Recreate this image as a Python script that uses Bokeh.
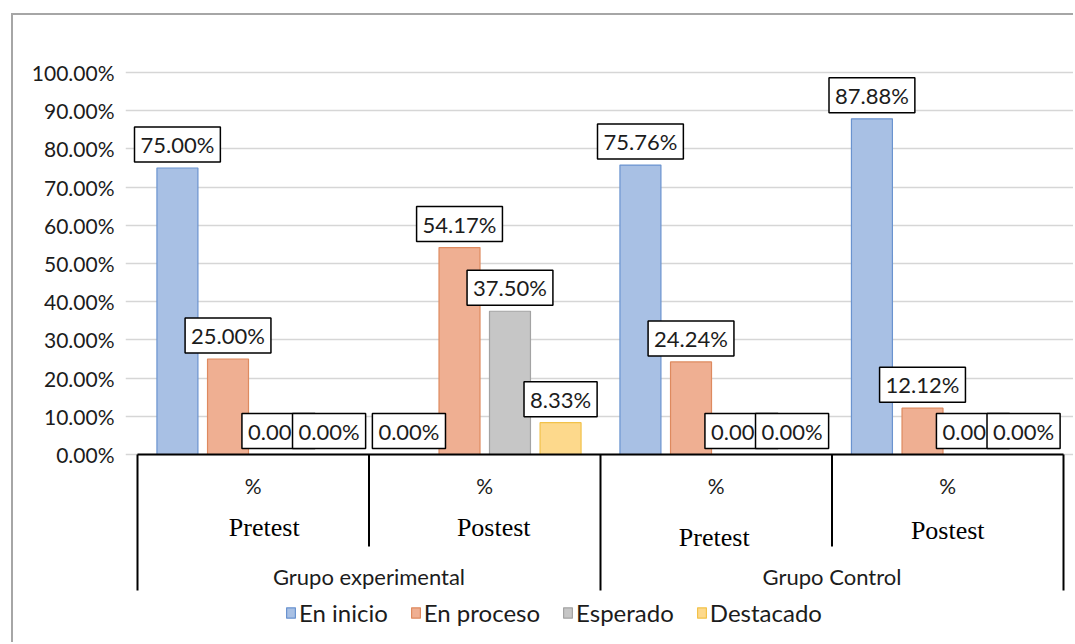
from bokeh.plotting import figure
from bokeh.models import (FactorRange, Range1d, FixedTicker, PrintfTickFormatter,
                          ColumnDataSource)
from bokeh.transform import dodge
from bokeh.core.properties import value
from bokeh.embed import file_html
from bokeh.resources import INLINE

# ---- data -------------------------------------------------------------
groups = ["Grupo experimental", "Grupo Control"]
tests = ["Pretest", "Postest"]
unit_label = "%"
series = ["En inicio", "En proceso", "Esperado", "Destacado"]
en_inicio = [75.00, 0.00, 75.76, 87.88]
en_proceso = [25.00, 54.17, 24.24, 12.12]
esperado = [0.00, 37.50, 0.00, 0.00]
destacado = [0.00, 8.33, 0.00, 0.00]
y_ticks = [0, 10, 20, 30, 40, 50, 60, 70, 80, 90, 100]

# ---- style ------------------------------------------------------------
fill_colors = ["#a8c0e4", "#efaf92", "#c6c6c6", "#fdd98c"]
line_colors = ["#6a93cf", "#de8a5f", "#a3a3a3", "#f2c24a"]
SANS = "Lato"
SERIF = "Liberation Serif"
TXT = "#1c1c1c"

PAGE_W, PAGE_H = 1075, 644
OX, OY = 13, 15                 # chart box starts after its grey frame line
W, H = PAGE_W - OX, PAGE_H - OY
FRAME_LEFT = 125                # page x of the plotting frame
CAT_LEFT = 137                  # page x where the first category starts
CAT_PX = 231.5                  # pixels per category
Y0_PX = 454.0                   # page row of the 0 % baseline
PX_PER_PCT = 3.82


def yd(py):
    """page pixel row -> value on the y scale"""
    return (Y0_PX - py) / PX_PER_PCT


factors = [(g, t) for g in groups for t in tests]
side_pad = (CAT_LEFT - FRAME_LEFT) / CAT_PX

p = figure(width=W, height=H,
           x_range=FactorRange(*factors, range_padding=side_pad,
                               range_padding_units="absolute",
                               factor_padding=0, group_padding=0,
                               subgroup_padding=0),
           y_range=Range1d(yd(PAGE_H), yd(OY)),
           x_axis_location=None,
           output_backend="svg", toolbar_location=None,
           min_border_left=FRAME_LEFT - OX, min_border_right=0,
           min_border_top=0, min_border_bottom=0,
           outline_line_color=None, background_fill_color="white",
           border_fill_color="white")
# grey frame line of the chart box (it runs off the page right and bottom)
p.styles = {"margin-left": f"{OX - 2}px", "margin-top": f"{OY - 2}px",
            "border-left": "2px solid #a6a6a6", "border-top": "2px solid #a6a6a6"}

# y axis & grid
ticker = FixedTicker(ticks=y_ticks)
p.yaxis.ticker = ticker
p.yaxis.formatter = PrintfTickFormatter(format="%.2f%%")
p.yaxis.axis_line_color = None
p.yaxis.major_tick_line_color = None
p.yaxis.minor_tick_line_color = None
p.yaxis.major_tick_out = 0
p.yaxis.major_tick_in = 0
p.yaxis.major_label_standoff = 11
p.yaxis.major_label_text_font = SANS
p.yaxis.major_label_text_font_size = "21px"
p.yaxis.major_label_text_color = TXT
p.ygrid.ticker = ticker
p.ygrid.grid_line_color = "#d6d6d6"
p.ygrid.grid_line_width = 1.5
p.xgrid.visible = False

# ---- bars --------------------------------------------------------------
keys = ["en_inicio", "en_proceso", "esperado", "destacado"]
values = [en_inicio, en_proceso, esperado, destacado]
data = dict(x=factors)
for k, v in zip(keys, values):
    data[k] = v
    data[k + "_lbl"] = [f"{val:.2f}%" for val in v]
src = ColumnDataSource(data)

offsets = [-0.3275, -0.109, 0.109, 0.3275]
bar_w = 0.177

for k, name, off, fc, lc in zip(keys, series, offsets, fill_colors, line_colors):
    p.vbar(x=dodge("x", off, range=p.x_range), top=k, width=bar_w, bottom=0,
           source=src, fill_color=fc, line_color=lc, line_width=1.2,
           legend_label=name)

# data labels (later series drawn over earlier ones)
for k, off in zip(keys, offsets):
    p.text(x=dodge("x", off, range=p.x_range), y=k, text=k + "_lbl", source=src,
           text_align="center", text_baseline="bottom", y_offset=-6,
           text_font=value(SANS), text_font_size="22px", text_color=TXT,
           background_fill_color="white", border_line_color="black",
           border_line_width=1.5,
           padding=dict(left=6, right=6, top=4, bottom=4))

# ---- category table under the baseline ---------------------------------
n = len(factors)
p.segment(x0=[0], y0=[0], x1=[n], y1=[0], line_color="black", line_width=2)
p.segment(x0=[0, 2, 4], y0=[0, 0, 0], x1=[0, 2, 4], y1=[yd(590)] * 3,
          line_color="black", line_width=2)
p.segment(x0=[1, 3], y0=[0, 0], x1=[1, 3], y1=[yd(546)] * 2,
          line_color="black", line_width=2)

p.text(x=factors, y=[yd(485)] * n, text=[unit_label] * n,
       text_align="center", text_baseline="middle",
       text_font=value(SANS), text_font_size="21px", text_color=TXT)
p.text(x=factors, y=[yd(527)] * n, text=[t for g, t in factors],
       x_offset=[11, 9, -2, 0], y_offset=[0, 0, 10, 3],
       text_align="center", text_baseline="middle",
       text_font=value(SERIF), text_font_size="26px", text_color="black")
p.text(x=groups, y=[yd(576)] * len(groups), text=groups,
       text_align="center", text_baseline="middle",
       text_font=value(SANS), text_font_size="22px", text_color=TXT)

# ---- legend ---------------------------------------------------------------
lg = p.legend[0]
lg.orientation = "horizontal"
lg.location = (160, 17)
lg.background_fill_alpha = 0
lg.border_line_color = None
lg.glyph_width = 11
lg.glyph_height = 13
lg.label_standoff = 3
lg.spacing = 22
lg.padding = 0
lg.margin = 0
lg.label_text_font = SANS
lg.label_text_font_size = "24px"
lg.label_text_color = TXT

open("out.html", "w").write(file_html(p, INLINE))
